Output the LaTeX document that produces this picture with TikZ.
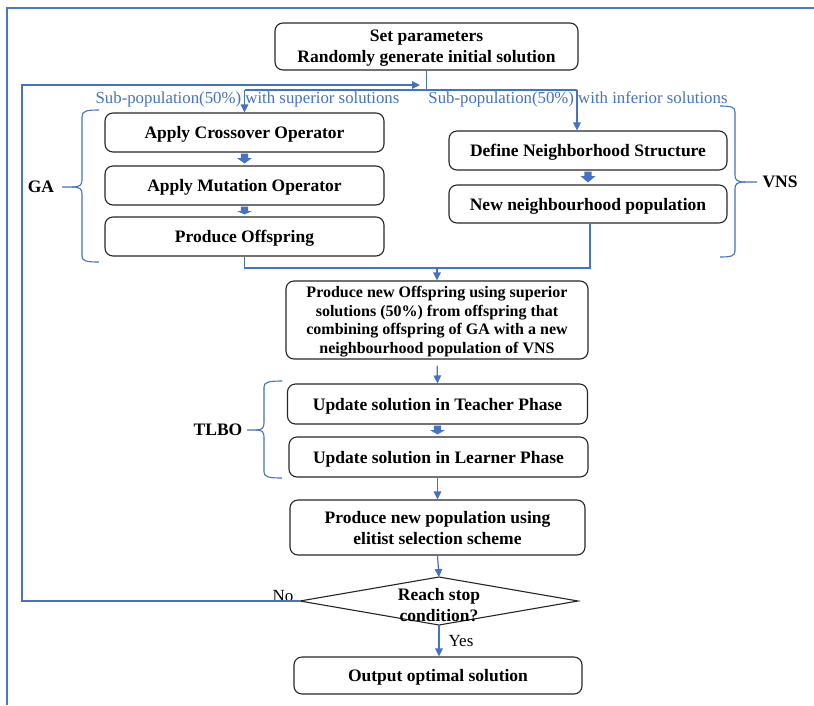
\documentclass[tikz,border=0pt]{standalone}
\usepackage{fontspec}
\setmainfont{Liberation Serif}
\usetikzlibrary{arrows.meta,calc}
\definecolor{lblue}{HTML}{4472C4}
\definecolor{fblue}{HTML}{4A78C8}
\newcommand{\bxfont}{\bfseries\fontsize{17.5}{21}\selectfont}
\newcommand{\midfont}{\bfseries\fontsize{16}{18.7}\selectfont}
\newcommand{\lblfont}{\fontsize{16.8}{19}\selectfont}
\newcommand{\blkarrow}[2]{\fill[lblue] ($(#1)+(-3.6,1)$) -- ($(#1)+(3.6,1)$) -- ($(#1)+(3.6,5.5)$) -- ($(#1)+(7.5,5.5)$) -- ($(#2)+(0,-2)$) -- ($(#1)+(-7.5,5.5)$) -- ($(#1)+(-3.6,5.5)$) -- cycle;}
\begin{document}
\begin{tikzpicture}[x=1pt,y=-1pt,
  box/.style={draw=black!85, line width=1.1pt, rounded corners=8pt, inner sep=0pt, text depth=0pt, align=center, font=\bxfont},
  txt/.style={inner sep=0pt, text depth=0pt, align=center, font=\bxfont},
  conn/.style={draw=lblue, line width=1.2pt},
  arr/.style={-{Triangle[width=7.5pt,length=8pt]}},
  brace/.style={draw=lblue, line width=1.1pt},
  blbl/.style={inner sep=0pt, text=lblue, font=\lblfont},
  yn/.style={inner sep=0pt, font=\fontsize{17}{19}\selectfont},
  grp/.style={inner sep=0pt, font=\bxfont}]
\useasboundingbox (0,0) rectangle (814,705);
% outer frame
\draw[draw=fblue, line width=1.5pt] (814,8) -- (7,8) -- (7,705);

% boxes
\node[box, minimum width=303pt, minimum height=47pt] (init) at (426.5,46.5) {Set parameters\\Randomly generate initial solution};
\node[box, minimum width=279pt, minimum height=39pt] (cross) at (244.5,132.5) {Apply Crossover Operator};
\node[box, minimum width=279pt, minimum height=39pt] (mut) at (244.5,185.5) {Apply Mutation Operator};
\node[box, minimum width=279pt, minimum height=39pt] (off) at (244.5,236.5) {Produce Offspring};
\node[box, minimum width=278pt, minimum height=39pt] (def) at (588,150.5) {Define Neighborhood Structure};
\node[box, minimum width=278pt, minimum height=38pt] (nn) at (588,204) {New neighbourhood population};
\node[box, minimum width=302pt, minimum height=78pt, font=\midfont] (mid) at (437,320) {Produce new Offspring using superior\\solutions (50\%) from offspring that\\combining offspring of GA with a new\\neighbourhood population of VNS};
\node[box, minimum width=300pt, minimum height=40pt] (teach) at (437.5,404) {Update solution in Teacher Phase};
\node[box, minimum width=299pt, minimum height=40pt] (learn) at (438.5,457) {Update solution in Learner Phase};
\node[box, minimum width=295pt, minimum height=55pt] (elit) at (437.5,527.5) {Produce new population using\\elitist selection scheme};
\node[box, minimum width=288pt, minimum height=37pt] (out) at (438,675.5) {Output optimal solution};

% diamond
\coordinate (dT) at (439,577);
\coordinate (dR) at (578,601);
\coordinate (dB) at (439,625);
\coordinate (dL) at (300,601);
\draw[draw=black!85, line width=1.1pt] (dT) -- (dR) -- (dB) -- (dL) -- cycle;
\node[txt] (cond) at (439,605) {Reach stop\\condition?};

% labels
\node[blbl] (supl) at (247.5,99.5) {Sub-population(50\%) with superior solutions};
\node[blbl] (infl) at (578,99.5) {Sub-population(50\%) with inferior solutions};
\node[yn] (no) at (283,596) {No};
\node[yn] (yes) at (461,641) {Yes};
\node[grp] (ga) at (41,187) {GA};
\node[grp] (vns) at (780,182) {VNS};
\node[grp] (tlbo) at (218,430) {TLBO};

% split from initial box
\coordinate (sp) at (init.south |- 0,90);
\coordinate (spL) at (244.5,90);
\coordinate (spR) at (577,90);
\draw[conn] (init.south) -- (sp);
\draw[conn] (spL) -- (spR);
\draw[conn,arr] (spL) -- (cross.north);
\draw[conn,arr] (spR) -- (spR |- def.north);

% loop back (No)
\coordinate (lpc) at (22,85);
\coordinate (lpe) at (420,85);
\draw[conn,arr] (dL) -| (lpc) -- (lpe);

% block arrows
\blkarrow{cross.south}{mut.north}
\blkarrow{mut.south}{off.north}
\blkarrow{def.south}{nn.north}
\coordinate (lnT) at (teach.south |- learn.north);
\blkarrow{teach.south}{lnT}

% merge
\coordinate (mgR) at (590,268);
\coordinate (mg) at (437,268);
\draw[conn] (off.south) |- (mgR) -- (mgR |- nn.south);
\draw[conn,arr] (mg) -- (mid.north);

\draw[conn,arr, shorten <=6pt] (mid.south) -- (teach.south |- teach.north);
\draw[conn,arr] (learn.south -| elit.north) -- (elit.north);
\draw[conn,arr] (elit.south) -- (dT);
\draw[conn,arr] (dB) -- (dB |- out.north);

% braces
\draw[brace] (99,110) .. controls (86,110) and (82,111) .. (82,117) -- (82,180)
  .. controls (82,185) and (80,187) .. (72,187) -- (62,187);
\draw[brace] (72,187) .. controls (80,187) and (82,189) .. (82,194) -- (82,256)
  .. controls (82,261) and (86,262) .. (99,262);

\draw[brace] (720,106) .. controls (731,106) and (735,107) .. (735,112) -- (735,175)
  .. controls (735,180) and (737,182) .. (745,182) -- (757,182);
\draw[brace] (745,182) .. controls (737,182) and (735,184) .. (735,189) -- (735,251)
  .. controls (735,256) and (731,257) .. (720,257);

\draw[brace] (282,381) .. controls (269,381) and (264,382) .. (264,387) -- (264,423)
  .. controls (264,428) and (262,430) .. (256,430) -- (247,430);
\draw[brace] (256,430) .. controls (262,430) and (264,432) .. (264,437) -- (264,472)
  .. controls (264,477) and (269,478) .. (282,478);
\end{tikzpicture}
\end{document}
